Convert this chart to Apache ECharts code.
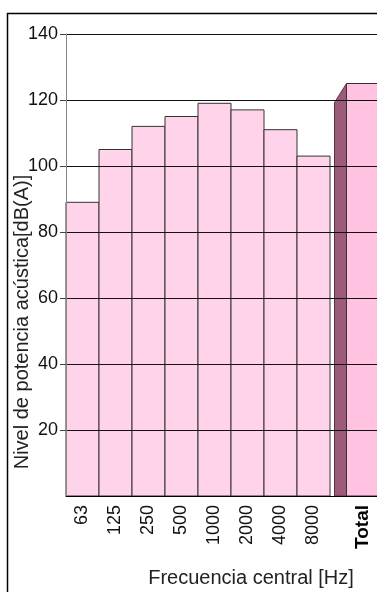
<!DOCTYPE html>
<html>
<head>
<meta charset="utf-8">
<script src="https://cdn.jsdelivr.net/npm/echarts@6.0.0/dist/echarts.min.js"></script>
<style>
  html, body { margin: 0; padding: 0; background: #fff; }
  #chart { width: 377px; height: 592px; }
</style>
</head>
<body>
<div id="chart"></div>
<script>
// bandas de octava y nivel de potencia
var bands = ['63', '125', '250', '500', '1000', '2000', '4000', '8000'];
var levels = [89, 105, 112, 115, 119, 117, 111, 103];
var totalLabel = 'Total';
var totalLevel = 125;
var yTicks = [0, 20, 40, 60, 80, 100, 120, 140];

var font = 'Liberation Sans, Arial, sans-serif';

// x: centro de cada banda en i + 0.5, el total deja media banda de hueco
var seriesData = bands.map(function (b, i) {
    return [i + 0.5, levels[i], 0];
});
var totalPos = bands.length + 1;
seriesData.push([totalPos, totalLevel, 1]);

function labelFor(v) {
    for (var i = 0; i < bands.length; i++) {
        if (Math.abs(v - (i + 0.5)) < 0.01) return bands[i];
    }
    if (Math.abs(v - totalPos) < 0.01) return '{b|' + totalLabel + '}';
    return '';
}

function renderBar(params, api) {
    var x = api.value(0);
    var v = api.value(1);
    var isTotal = api.value(2) === 1;
    var tl = api.coord([x - 0.5, v]);
    var br = api.coord([x + 0.5, 0]);
    var front = {
        type: 'rect',
        shape: { x: tl[0], y: tl[1], width: br[0] - tl[0], height: br[1] - tl[1] },
        style: {
            fill: isTotal ? '#ffc2e1' : '#ffd3ea',
            stroke: '#333',
            lineWidth: 1
        }
    };
    if (!isTotal) return front;
    // cara lateral oscura del total
    var dx = 12, dy = 19;
    return {
        type: 'group',
        children: [
            {
                type: 'polygon',
                shape: {
                    points: [
                        [tl[0] - dx, tl[1] + dy],
                        [tl[0], tl[1]],
                        [tl[0], br[1]],
                        [tl[0] - dx, br[1]]
                    ]
                },
                style: { fill: '#9c5b79', stroke: '#5a3045', lineWidth: 1 }
            },
            front
        ]
    };
}

var chart = echarts.init(document.getElementById('chart'));
var option = {
    animation: false,
    backgroundColor: '#fff',
    grid: { left: 66, right: -19, top: 34, bottom: 96, outerBoundsMode: 'none', containLabel: false },
    graphic: [{
        type: 'rect',
        shape: { x: 7.5, y: 13.5, width: 420, height: 620 },
        style: { fill: 'none', stroke: '#000', lineWidth: 1.5 },
        z: 100
    }, {
        // titulo del eje y
        type: 'text',
        x: 22,
        y: 322,
        rotation: Math.PI / 2,
        style: {
            text: 'Nivel de potencia acústica[dB(A)]',
            fontFamily: font,
            fontSize: 20,
            fill: '#222',
            align: 'center',
            verticalAlign: 'middle'
        }
    }],
    xAxis: {
        type: 'value',
        min: 0,
        max: 10,
        interval: 0.5,
        z: 5,
        axisLine: { lineStyle: { color: '#000', width: 1 } },
        axisTick: { show: false },
        splitLine: { show: false },
        axisLabel: {
            rotate: 90,
            margin: 9,
            fontFamily: font,
            fontSize: 18,
            color: '#111',
            formatter: labelFor,
            rich: { b: { fontWeight: 'bold', fontFamily: font, fontSize: 19, color: '#000' } }
        },
        name: 'Frecuencia central [Hz]',
        nameLocation: 'middle',
        nameGap: 72,
        nameTextStyle: { fontFamily: font, fontSize: 20, color: '#222', padding: [0, 0, 0, 40] }
    },
    yAxis: {
        type: 'value',
        min: yTicks[0],
        max: yTicks[yTicks.length - 1],
        interval: 20,
        z: 5,
        axisLine: { show: true, lineStyle: { color: '#888', width: 1 } },
        axisTick: { show: true, length: 6, lineStyle: { color: '#444' } },
        splitLine: { show: true, lineStyle: { color: '#111', width: 1 } },
        axisLabel: {
            margin: 8,
            fontFamily: font,
            fontSize: 18,
            color: '#111',
            showMinLabel: false
        }
    },
    series: [{
        type: 'custom',
        renderItem: renderBar,
        encode: { x: 0, y: 1 },
        data: seriesData,
        z: 2
    }]
};
chart.setOption(option);
</script>
</body>
</html>
